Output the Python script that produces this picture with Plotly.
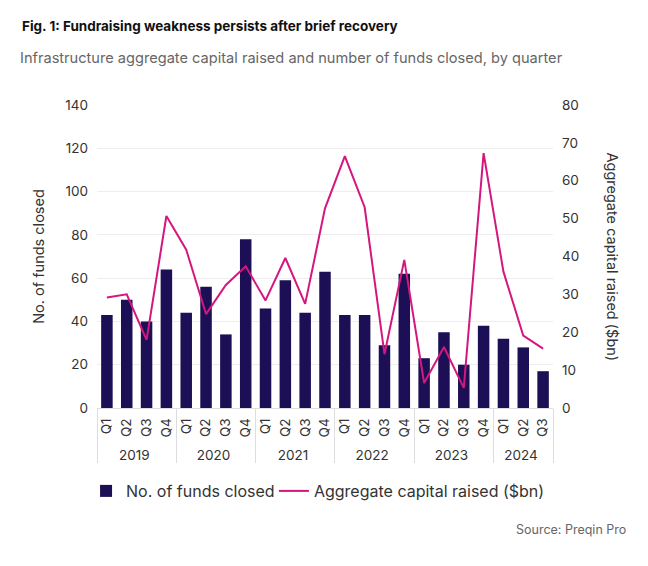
import plotly.graph_objects as go

# Data
years = ["2019"] * 4 + ["2020"] * 4 + ["2021"] * 4 + ["2022"] * 4 + ["2023"] * 4 + ["2024"] * 3
quarters = ["Q1", "Q2", "Q3", "Q4"] * 5 + ["Q1", "Q2", "Q3"]
funds_closed = [43, 50, 40, 64, 44, 56, 34, 78, 46, 59, 44, 63,
                43, 43, 29, 62, 23, 35, 20, 38, 32, 28, 17]
capital_raised = [29.2, 30.0, 18.0, 50.7, 41.8, 24.8, 32.5, 37.4, 28.4, 39.6, 27.5, 52.7,
                  66.5, 53.0, 14.2, 39.1, 6.6, 16.1, 5.3, 67.3, 36.0, 19.1, 15.7]

navy = "#1c0f55"
magenta = "#d4177f"
font = "Inter, Roboto, sans-serif"

# page body adds an 8px offset, so the figure is drawn 8px smaller
W, H = 640, 558
L, T, R, B = 89, 97, 95, 158
pw, ph = W - L - R, H - T - B

fig = go.Figure()
fig.add_trace(go.Bar(
    x=[years, quarters], y=funds_closed, name="No. of funds closed",
    marker=dict(color=navy, line=dict(width=0)), legend="legend",
))
fig.add_trace(go.Scatter(
    x=[years, quarters], y=capital_raised, name="Aggregate capital raised ($bn)",
    mode="lines", line=dict(color=magenta, width=2), yaxis="y2", legend="legend2",
))

legend_style = dict(orientation="h", xanchor="left", y=-83 / ph, yanchor="middle",
                    font=dict(size=16, color="#333333"), itemwidth=30)

fig.update_layout(
    width=W, height=H,
    margin=dict(l=L, r=R, t=T, b=B),
    paper_bgcolor="white", plot_bgcolor="white",
    font=dict(family=font, size=13, color="#333333"),
    bargap=0.42,
    showlegend=True,
    legend=dict(x=-0.024, **legend_style),
    legend2=dict(x=0.388, **legend_style),
    xaxis=dict(
        type="multicategory", tickangle=-90, showdividers=True, dividercolor="#dddddd",
        dividerwidth=1, showline=True, linecolor="#dddddd", ticks="", showgrid=False,
        tickfont=dict(size=13.5, color="#333333"), ticklabelstandoff=4,
    ),
    yaxis=dict(
        range=[0, 140], dtick=20, showgrid=True, gridcolor="#eeeeee", zeroline=False,
        title=dict(text="No. of funds closed", font=dict(size=14.5, color="#333333"), standoff=17),
        tickfont=dict(size=13.5, color="#333333"), ticklabelstandoff=8,
    ),
    yaxis2=dict(
        range=[0, 80], dtick=10, overlaying="y", side="right", showgrid=False, zeroline=False,
        tickfont=dict(size=13.5, color="#333333"), ticklabelstandoff=8,
    ),
    annotations=[
        dict(text="<b>Fig. 1: Fundraising weakness persists after brief recovery</b>",
             xref="paper", yref="paper", x=(12 - L) / pw, y=1 + 79 / ph,
             xanchor="left", yanchor="middle", showarrow=False,
             font=dict(size=13.5, color="#111111")),
        dict(text="Infrastructure aggregate capital raised and number of funds closed, by quarter",
             xref="paper", yref="paper", x=(10 - L) / pw, y=1 + 47 / ph,
             xanchor="left", yanchor="middle", showarrow=False,
             font=dict(size=14.6, color="#666666")),
        dict(text="Aggregate capital raised ($bn)", textangle=90,
             xref="paper", yref="paper", x=1 + 59 / pw, y=0.5,
             xanchor="center", yanchor="middle", showarrow=False,
             font=dict(size=14.5, color="#333333")),
        dict(text="Source: Preqin Pro",
             xref="paper", yref="paper", x=1 + 75 / pw, y=-121 / ph,
             xanchor="right", yanchor="middle", showarrow=False,
             font=dict(size=12.5, color="#666666")),
    ],
)

fig.write_html("out.html")
